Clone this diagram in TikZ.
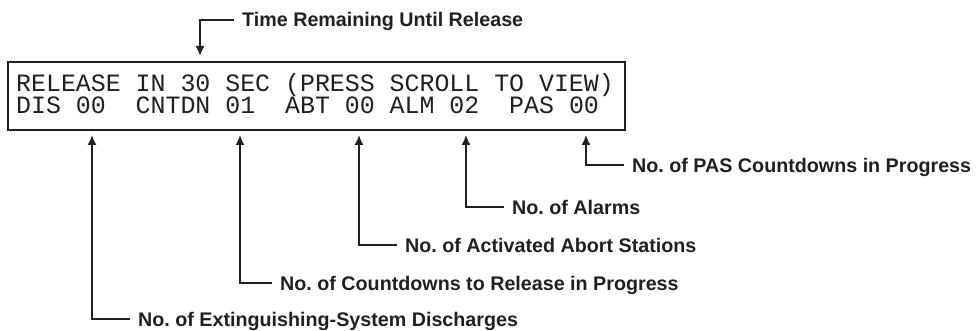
\documentclass[tikz,border=0pt]{standalone}
\usepackage{fontspec}
\setmainfont{Liberation Sans}
\newfontfamily\lcdfont{Liberation Mono}
\usetikzlibrary{arrows.meta}
\definecolor{ink}{HTML}{231F20}
\begin{document}
\begin{tikzpicture}[x=1pt,y=-1pt,
  lbl/.style={font=\fontsize{19.7}{21}\selectfont\bfseries\frenchspacing, text=ink, anchor=west, inner sep=0pt, text height=14pt, text depth=0pt},
  lcd/.style={font=\fontsize{24.9}{25}\selectfont\lcdfont, text=ink, anchor=base west, inner sep=0pt, text height=17pt, text depth=4pt},
  callout/.style={draw=ink, line width=1.6pt, shorten <=8pt, -{Latex[length=10pt,width=9pt]}},
]
\useasboundingbox (0,0) rectangle (976,331);
% display box
\draw[ink, line width=2pt] (8,62) rectangle (625,130);
% display text
\node[lcd] (line1) at (16,92) {RELEASE IN 30 SEC (PRESS SCROLL TO VIEW)};
\node[lcd] (line2) at (16,114) {DIS 00\ \ CNTDN 01\ \ ABT 00 ALM 02\ \ PAS 00};
% labels
\node[lbl] (time) at (242,20) {Time Remaining Until Release};
\node[lbl] (pas)  at (632,165) {No. of PAS Countdowns in Progress};
\node[lbl] (alm)  at (512,207) {No. of Alarms};
\node[lbl] (abt)  at (405,245) {No. of Activated Abort Stations};
\node[lbl] (cnt)  at (280,283) {No. of Countdowns to Release in Progress};
\node[lbl] (dis)  at (138,319) {No. of Extinguishing-System Discharges};
% arrow targets
\coordinate (ttime) at (200,56);
\coordinate (tpas)  at (586,135);
\coordinate (talm)  at (466,135);
\coordinate (tabt)  at (359,135);
\coordinate (tcnt)  at (240,135);
\coordinate (tdis)  at (92,135);
% callouts
\draw[callout] (time.west) -| (ttime);
\draw[callout] (pas.west) -| (tpas);
\draw[callout] (alm.west) -| (talm);
\draw[callout] (abt.west) -| (tabt);
\draw[callout] (cnt.west) -| (tcnt);
\draw[callout] (dis.west) -| (tdis);
\end{tikzpicture}
\end{document}
